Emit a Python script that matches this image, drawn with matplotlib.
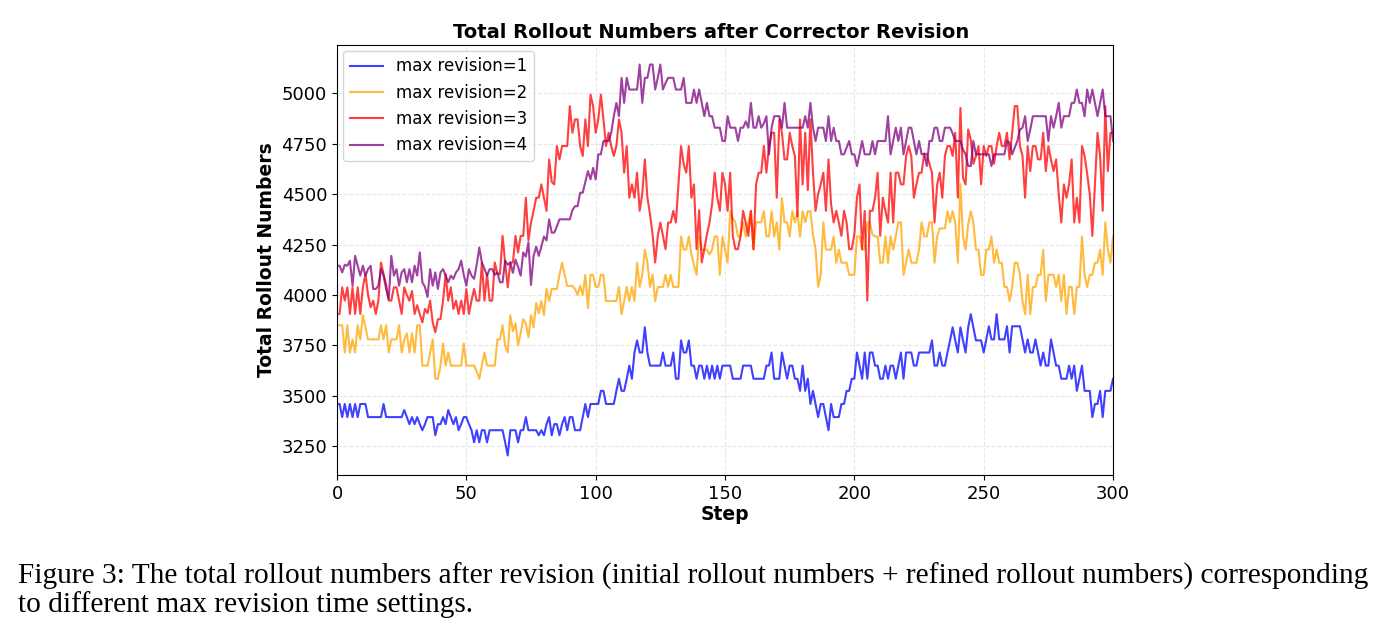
import matplotlib
matplotlib.use("Agg")
import matplotlib.pyplot as plt

# values, one per step (0..300)
steps = list(range(301))

rev1 = [3460, 3460, 3395, 3460, 3395, 3460, 3395, 3460, 3395, 3460,
        3460, 3460, 3395, 3395, 3395, 3395, 3395, 3395, 3460, 3395,
        3395, 3395, 3395, 3395, 3395, 3395, 3430, 3395, 3360, 3395,
        3360, 3395, 3360, 3330, 3360, 3395, 3395, 3395, 3305, 3360,
        3360, 3395, 3360, 3430, 3395, 3360, 3395, 3330, 3360, 3395,
        3395, 3360, 3330, 3270, 3330, 3270, 3330, 3330, 3270, 3330,
        3330, 3330, 3330, 3330, 3330, 3270, 3205, 3330, 3330, 3330,
        3270, 3330, 3330, 3395, 3330, 3330, 3330, 3330, 3305, 3330,
        3305, 3360, 3395, 3305, 3360, 3360, 3305, 3360, 3395, 3330,
        3395, 3395, 3330, 3330, 3330, 3395, 3460, 3395, 3460, 3460,
        3460, 3460, 3525, 3525, 3460, 3460, 3460, 3460, 3525, 3585,
        3525, 3525, 3585, 3650, 3585, 3715, 3775, 3715, 3715, 3840,
        3715, 3650, 3650, 3650, 3650, 3650, 3715, 3650, 3650, 3650,
        3715, 3585, 3585, 3775, 3715, 3715, 3775, 3650, 3650, 3585,
        3650, 3650, 3585, 3650, 3585, 3650, 3585, 3650, 3585, 3650,
        3650, 3650, 3650, 3585, 3585, 3585, 3585, 3650, 3650, 3650,
        3650, 3585, 3585, 3585, 3585, 3585, 3650, 3650, 3715, 3585,
        3585, 3585, 3715, 3650, 3585, 3650, 3650, 3585, 3585, 3525,
        3650, 3525, 3585, 3460, 3525, 3460, 3395, 3460, 3460, 3395,
        3330, 3460, 3395, 3395, 3395, 3460, 3460, 3525, 3525, 3585,
        3585, 3715, 3650, 3585, 3715, 3585, 3715, 3715, 3650, 3650,
        3585, 3585, 3650, 3585, 3650, 3650, 3585, 3650, 3715, 3585,
        3715, 3715, 3715, 3650, 3650, 3715, 3715, 3715, 3715, 3715,
        3775, 3650, 3650, 3715, 3650, 3650, 3715, 3775, 3840, 3775,
        3715, 3840, 3775, 3715, 3840, 3905, 3840, 3775, 3775, 3775,
        3715, 3780, 3845, 3780, 3780, 3905, 3780, 3780, 3780, 3845,
        3715, 3845, 3845, 3845, 3845, 3780, 3715, 3780, 3715, 3715,
        3780, 3715, 3650, 3715, 3650, 3650, 3780, 3715, 3650, 3650,
        3585, 3585, 3585, 3650, 3585, 3650, 3525, 3585, 3650, 3525,
        3525, 3525, 3395, 3460, 3460, 3525, 3395, 3525, 3525, 3525,
        3585]

rev2 = [3850, 3850, 3850, 3715, 3850, 3715, 3780, 3715, 3850, 3780,
        3900, 3840, 3780, 3780, 3780, 3780, 3780, 3850, 3780, 3850,
        3715, 3780, 3780, 3780, 3850, 3715, 3780, 3810, 3715, 3810,
        3715, 3850, 3850, 3650, 3650, 3650, 3715, 3780, 3585, 3585,
        3650, 3760, 3650, 3715, 3650, 3650, 3650, 3650, 3650, 3760,
        3650, 3650, 3650, 3650, 3620, 3585, 3650, 3715, 3650, 3650,
        3650, 3650, 3780, 3780, 3850, 3750, 3715, 3900, 3820, 3860,
        3750, 3810, 3880, 3860, 3790, 3900, 3840, 3960, 3910, 3970,
        3900, 4030, 3970, 4030, 4030, 4030, 4100, 4160, 4100, 4045,
        4045, 4045, 4030, 4000, 4045, 4000, 4100, 3935, 4100, 4100,
        4040, 4040, 4100, 4100, 3970, 3970, 3970, 3970, 3970, 4040,
        3905, 3970, 4040, 3970, 4040, 3970, 4160, 4040, 4100, 4225,
        4160, 4040, 4100, 3970, 4040, 4040, 4040, 4100, 4040, 4100,
        4040, 4040, 4040, 4290, 4225, 4225, 4290, 4200, 4150, 4100,
        4290, 4225, 4225, 4225, 4200, 4225, 4290, 4290, 4100, 4290,
        4225, 4160, 4415, 4380, 4360, 4290, 4290, 4360, 4290, 4360,
        4415, 4225, 4360, 4360, 4360, 4415, 4290, 4290, 4415, 4290,
        4360, 4225, 4480, 4360, 4360, 4290, 4415, 4360, 4415, 4290,
        4415, 4360, 4415, 4415, 4300, 4225, 4040, 4100, 4360, 4225,
        4225, 4225, 4290, 4160, 4225, 4160, 4160, 4160, 4100, 4100,
        4100, 4290, 4290, 4225, 4225, 4360, 4360, 4300, 4290, 4290,
        4160, 4160, 4290, 4160, 4290, 4225, 4290, 4360, 4360, 4100,
        4160, 4225, 4160, 4160, 4160, 4225, 4360, 4290, 4290, 4360,
        4360, 4160, 4290, 4330, 4330, 4330, 4415, 4360, 4415, 4360,
        4160, 4550, 4290, 4225, 4350, 4415, 4360, 4225, 4225, 4100,
        4100, 4225, 4225, 4290, 4160, 4225, 4160, 4160, 4040, 4040,
        3970, 4040, 4160, 4160, 4100, 3970, 3905, 4100, 3905, 4040,
        4040, 4100, 4100, 4225, 3970, 4100, 4100, 4100, 4040, 4100,
        3970, 4100, 3905, 4040, 4040, 3905, 4040, 4040, 4290, 4100,
        4040, 4100, 4100, 4160, 4160, 4225, 4100, 4360, 4225, 4160,
        4290]

rev3 = [3906, 3906, 4038, 3972, 4038, 3906, 4038, 3906, 4038, 3906,
        4038, 4104, 4000, 3939, 3972, 3906, 3972, 4161, 4104, 4050,
        3972, 3972, 4038, 4038, 3972, 3906, 4038, 4000, 3972, 4020,
        3906, 3950, 3906, 3864, 3931, 3910, 3972, 3864, 3815, 3880,
        3880, 3972, 4104, 3972, 4038, 3931, 3972, 3906, 3972, 3906,
        4030, 3906, 3972, 4030, 3972, 3972, 4161, 3972, 4104, 3972,
        3972, 4161, 4104, 4104, 4293, 4161, 4038, 4161, 4161, 4293,
        4211, 4293, 4293, 4482, 4270, 4359, 4417, 4482, 4482, 4548,
        4482, 4417, 4672, 4560, 4548, 4738, 4672, 4738, 4738, 4738,
        4936, 4804, 4870, 4870, 4738, 4689, 4870, 4738, 4993, 4936,
        4804, 4870, 4993, 4870, 4738, 4804, 4738, 4689, 4738, 4870,
        4804, 4606, 4738, 4482, 4548, 4482, 4606, 4417, 4500, 4672,
        4482, 4400, 4300, 4161, 4293, 4359, 4293, 4227, 4359, 4359,
        4417, 4359, 4550, 4738, 4650, 4606, 4738, 4482, 4548, 4227,
        4420, 4161, 4227, 4300, 4359, 4450, 4606, 4482, 4417, 4606,
        4548, 4417, 4606, 4293, 4227, 4227, 4293, 4417, 4359, 4293,
        4417, 4227, 4548, 4606, 4606, 4738, 4606, 4738, 4804, 4804,
        4482, 4870, 4804, 4672, 4672, 4804, 4738, 4689, 4390, 4870,
        4548, 4804, 4520, 4870, 4606, 4417, 4500, 4548, 4606, 4417,
        4672, 4450, 4359, 4417, 4359, 4293, 4417, 4359, 4227, 4227,
        4300, 4482, 4548, 4227, 4417, 3972, 4417, 4417, 4482, 4606,
        4293, 4482, 4417, 4359, 4606, 4359, 4606, 4606, 4548, 4548,
        4689, 4738, 4689, 4482, 4548, 4606, 4606, 4700, 4700, 4650,
        4606, 4359, 4548, 4606, 4482, 4689, 4738, 4738, 4689, 4804,
        4482, 4927, 4580, 4548, 4820, 4770, 4650, 4689, 4738, 4548,
        4738, 4689, 4738, 4738, 4650, 4738, 4804, 4738, 4738, 4804,
        4672, 4804, 4936, 4936, 4738, 4689, 4482, 4738, 4614, 4738,
        4738, 4672, 4672, 4804, 4614, 4738, 4672, 4614, 4672, 4500,
        4359, 4548, 4482, 4548, 4672, 4359, 4482, 4359, 4738, 4689,
        4600, 4500, 4293, 4548, 4804, 4689, 4417, 4936, 4614, 4804,
        4804]

rev4 = [4145, 4145, 4112, 4150, 4145, 4170, 4046, 4194, 4145, 4096,
        4145, 4096, 4128, 4145, 4030, 4030, 4046, 4128, 4096, 4030,
        3980, 4194, 4096, 4128, 4046, 4112, 4128, 4063, 4128, 4063,
        4145, 4096, 4211, 4063, 4040, 3990, 4128, 4046, 4112, 4030,
        4112, 4128, 4096, 4063, 4096, 4080, 4112, 4128, 4170, 4100,
        4046, 4128, 4096, 4080, 4150, 4235, 4161, 4130, 4096, 4128,
        4128, 4100, 4112, 4063, 4063, 4170, 4150, 4161, 4110, 4175,
        4140, 4096, 4211, 4190, 4260, 4050, 4194, 4240, 4194, 4240,
        4290, 4270, 4375, 4309, 4309, 4340, 4375, 4375, 4375, 4375,
        4375, 4420, 4440, 4440, 4507, 4507, 4560, 4614, 4573, 4630,
        4573, 4697, 4697, 4763, 4763, 4763, 4804, 4886, 4952, 4886,
        5076, 4952, 5076, 5018, 5018, 5018, 5018, 5142, 4952, 5076,
        5076, 5142, 5142, 5018, 5076, 5142, 5018, 5050, 5076, 5076,
        5076, 5018, 5018, 5018, 5076, 4952, 4952, 4952, 5018, 4952,
        5018, 4952, 4886, 4952, 4886, 4886, 4829, 4829, 4829, 4763,
        4763, 4886, 4829, 4829, 4829, 4763, 4829, 4829, 4860, 4829,
        4952, 4829, 4829, 4886, 4829, 4850, 4886, 4697, 4829, 4886,
        4886, 4886, 4829, 4952, 4829, 4829, 4829, 4829, 4829, 4829,
        4829, 4886, 4829, 4952, 4829, 4763, 4829, 4829, 4829, 4763,
        4886, 4763, 4829, 4763, 4763, 4697, 4697, 4730, 4763, 4697,
        4697, 4639, 4697, 4763, 4697, 4697, 4697, 4763, 4697, 4763,
        4763, 4763, 4763, 4886, 4697, 4763, 4829, 4763, 4829, 4697,
        4763, 4829, 4829, 4763, 4697, 4763, 4697, 4700, 4639, 4763,
        4763, 4829, 4829, 4763, 4763, 4829, 4829, 4829, 4800, 4763,
        4763, 4763, 4720, 4697, 4639, 4639, 4763, 4697, 4697, 4697,
        4697, 4697, 4697, 4639, 4697, 4697, 4697, 4697, 4697, 4763,
        4755, 4697, 4730, 4763, 4820, 4829, 4886, 4763, 4820, 4886,
        4886, 4886, 4886, 4886, 4886, 4763, 4886, 4829, 4886, 4952,
        4829, 4886, 4886, 4886, 4952, 4952, 5018, 4952, 4952, 4886,
        5018, 4952, 5018, 4952, 4886, 4952, 5018, 4886, 4886, 4886,
        4763]

series = [
    (rev1, 'blue', 'max revision=1'),
    (rev2, 'orange', 'max revision=2'),
    (rev3, 'red', 'max revision=3'),
    (rev4, 'purple', 'max revision=4'),
]

caption_1 = ("Figure 3: The total rollout numbers after revision (initial rollout numbers "
             "+ refined rollout numbers) corresponding")
caption_2 = "to different max revision time settings."

fig = plt.figure(figsize=(13.92, 6.38), dpi=100)
ax = fig.add_axes([0.2421, 0.2555, 0.5575, 0.674])

for vals, color, label in series:
    ax.plot(steps, vals, color=color, linewidth=1.5, alpha=0.75, label=label)

ax.set_title('Total Rollout Numbers after Corrector Revision', fontsize=14, fontweight='bold',
             pad=5, x=0.482)
ax.set_xlabel('Step', fontsize=13.5, fontweight='bold', labelpad=2)
ax.set_ylabel('Total Rollout Numbers', fontsize=13.5, fontweight='bold')
ax.set_xlim(0, 300)
ax.set_xticks([0, 50, 100, 150, 200, 250, 300])
ax.set_yticks([3250, 3500, 3750, 4000, 4250, 4500, 4750, 5000])
ax.tick_params(labelsize=13)
ax.grid(True, linestyle='--', alpha=0.3)
ax.legend(loc='upper left', fontsize=12, frameon=True, borderaxespad=0.35)

fig.text(0.013, 0.097, caption_1, fontsize=21.2, family='Liberation Serif', va='center', ha='left')
fig.text(0.013, 0.053, caption_2, fontsize=21.2, family='Liberation Serif', va='center', ha='left')

fig.savefig('out.png', dpi=100)
plt.close(fig)
